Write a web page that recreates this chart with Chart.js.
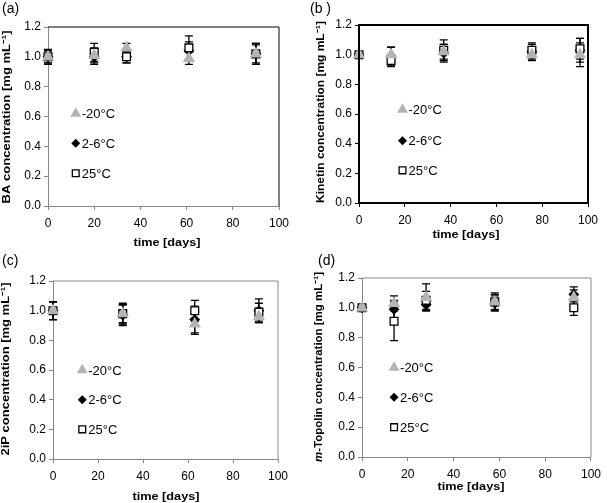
<!DOCTYPE html>
<html>
<head>
<meta charset="utf-8">
<script src="https://cdn.jsdelivr.net/npm/chart.js@4.4.1/dist/chart.umd.min.js"></script>
<style>
  body { margin:0; background:#fff; }
  .panel { position:absolute; }
</style>
</head>
<body>
<div class="panel" style="left:0;top:0"><canvas id="chartA" width="303" height="250"></canvas></div>
<div class="panel" style="left:303px;top:0"><canvas id="chartB" width="304" height="250"></canvas></div>
<div class="panel" style="left:0;top:252px"><canvas id="chartC" width="303" height="251"></canvas></div>
<div class="panel" style="left:303px;top:252px"><canvas id="chartD" width="304" height="251"></canvas></div>
<script>
// series names (same in every panel)
var seriesNames = ["-20°C", "2-6°C", "25°C"];
var xTicks = [0, 20, 40, 60, 80, 100];
var yTicks = [0.0, 0.2, 0.4, 0.6, 0.8, 1.0, 1.2];

// (a) BA
var daysA = [0, 20, 34, 61, 90];
var baCold = [1.00, 1.01, 1.06, 0.99, 1.02];
var baColdErr = [0.04, 0.05, 0.03, 0.04, 0.06];
var baFridge = [1.00, 1.00, 1.00, 1.04, 1.02];
var baFridgeErr = [0.05, 0.05, 0.04, 0.06, 0.07];
var baRoom = [1.00, 1.03, 1.00, 1.06, 1.02];
var baRoomErr = [0.04, 0.06, 0.04, 0.08, 0.07];

// (b) Kinetin
var daysB = [0, 14, 37, 75.5, 96.5];
var kinCold = [1.00, 1.00, 1.02, 1.00, 1.00];
var kinColdErr = [0.02, 0.05, 0.05, 0.04, 0.08];
var kinFridge = [1.00, 0.99, 1.01, 1.02, 1.03];
var kinFridgeErr = [0.02, 0.06, 0.06, 0.05, 0.08];
var kinRoom = [1.00, 0.96, 1.03, 1.03, 1.04];
var kinRoomErr = [0.02, 0.04, 0.07, 0.05, 0.07];

// (c) 2iP
var daysC = [0, 31, 63, 91.5];
var ipCold = [1.00, 0.98, 0.91, 0.96];
var ipColdErr = [0.06, 0.07, 0.07, 0.04];
var ipFridge = [1.00, 0.97, 0.94, 1.00];
var ipFridgeErr = [0.06, 0.07, 0.09, 0.08];
var ipRoom = [1.00, 0.98, 1.00, 0.99];
var ipRoomErr = [0.06, 0.06, 0.07, 0.06];

// (d) m-Topolin
var daysD = [0, 14, 28, 58, 92.5];
var topCold = [1.00, 1.03, 1.07, 1.04, 1.07];
var topColdErr = [0.02, 0.05, 0.09, 0.05, 0.05];
var topFridge = [1.00, 0.99, 1.02, 1.03, 1.09];
var topFridgeErr = [0.02, 0.06, 0.04, 0.05, 0.05];
var topRoom = [1.00, 0.91, 1.05, 1.04, 1.00];
var topRoomErr = [0.02, 0.13, 0.06, 0.06, 0.05];

var FONT = "'Liberation Sans', Arial, sans-serif";
var styles = [
  {pointStyle:'triangle', backgroundColor:'#b4b4b4', borderColor:'#b4b4b4', radius:5.8, legendRadius:5},
  {pointStyle:'rectRot', backgroundColor:'#000', borderColor:'#000', radius:4.5, legendRadius:3.6},
  {pointStyle:'rect', backgroundColor:'#fff', borderColor:'#000', radius:5.5, legendRadius:4.8}
];

function toPts(days, vals){
  return days.map(function(d,i){ return {x:d, y:vals[i]}; });
}

// draw a text run stretched to a given length (the original uses a wide face)
function stretchText(ctx, parts, cx, cy, len, vertical){
  ctx.save();
  ctx.translate(cx, cy);
  if (vertical) ctx.rotate(-Math.PI/2);
  var w = 0;
  parts.forEach(function(pt){ ctx.font = pt.font; w += ctx.measureText(pt.text).width; });
  ctx.scale(len / w, 1);
  ctx.textBaseline = 'middle';
  ctx.textAlign = 'left';
  ctx.fillStyle = '#000';
  var x = -w/2;
  parts.forEach(function(pt){ ctx.font = pt.font; ctx.fillText(pt.text, x, 0); x += ctx.measureText(pt.text).width; });
  ctx.restore();
}

// error bars, titles, panel tag, frame and in-plot legend
var extras = {
  id:'extras',
  beforeDatasetsDraw: function(chart){
    var ctx = chart.ctx, xs = chart.scales.x, ys = chart.scales.y;
    ctx.save();
    ctx.strokeStyle = '#000';
    ctx.lineWidth = 1.3;
    chart.data.datasets.forEach(function(ds){
      ds.data.forEach(function(p,i){
        var e = ds.err[i];
        var px = xs.getPixelForValue(p.x);
        var top = ys.getPixelForValue(p.y + e), bot = ys.getPixelForValue(p.y - e);
        ctx.beginPath();
        ctx.moveTo(px, top); ctx.lineTo(px, bot);
        ctx.moveTo(px-4, top); ctx.lineTo(px+4, top);
        ctx.moveTo(px-4, bot); ctx.lineTo(px+4, bot);
        ctx.stroke();
      });
    });
    ctx.restore();
  },
  afterDraw: function(chart){
    var o = chart.options.plugins.extras;
    var ctx = chart.ctx, a = chart.chartArea, ys = chart.scales.y;
    ctx.save();
    // frame
    ctx.strokeStyle = o.frame;
    ctx.lineWidth = o.frameWidth;
    ctx.beginPath();
    ctx.moveTo(a.left, a.top); ctx.lineTo(a.right, a.top); ctx.lineTo(a.right, a.bottom);
    if (o.fullFrame) { ctx.lineTo(a.left, a.bottom); ctx.lineTo(a.left, a.top); }
    ctx.stroke();
    // tag
    ctx.fillStyle = '#000';
    ctx.font = '14px ' + FONT;
    ctx.textBaseline = 'middle';
    ctx.fillText(o.tag, o.tagX, 9);
    // axis titles
    stretchText(ctx, [{text:'time [days]', font:'bold 11px ' + FONT}], o.xTitle[0], o.xTitle[1], 67, false);
    stretchText(ctx, o.yTitleParts, o.yTitle[0], o.yTitle[1], o.yTitle[2], true);
    // legend
    var lx = a.left + o.legendX * (a.right - a.left);
    seriesNames.forEach(function(name, i){
      var ly = ys.getPixelForValue(o.legendY[i]);
      var s = styles[i];
      ctx.fillStyle = s.backgroundColor; ctx.strokeStyle = s.borderColor; ctx.lineWidth = 1.3;
      Chart.helpers.drawPoint(ctx, {pointStyle:s.pointStyle, radius:s.legendRadius, borderWidth:1.3, rotation:0}, lx, ly);
      ctx.fillStyle = '#000';
      ctx.font = '13px ' + FONT;
      ctx.textBaseline = 'middle';
      ctx.fillText(name, lx + 6, ly + 1);
    });
    ctx.restore();
  }
};

function makePanel(id, p){
  var ctx = document.getElementById(id);
  var sets = [];
  var order = [0, 2, 1]; // cold first, diamond on top
  order.forEach(function(k){
    sets.push({
      label: seriesNames[k],
      data: toPts(p.days, p.vals[k]),
      err: p.errs[k],
      clip: false,
      showLine: false,
      pointStyle: styles[k].pointStyle,
      pointRadius: styles[k].radius,
      pointHoverRadius: styles[k].radius,
      pointBackgroundColor: styles[k].backgroundColor,
      pointBorderColor: styles[k].borderColor,
      pointBorderWidth: 1.3
    });
  });
  return new Chart(ctx, {
    type:'scatter',
    data:{ datasets: sets },
    options:{
      responsive:false,
      animation:false,
      layout:{ padding:{ top:p.padTop, right:p.padRight, left:0, bottom:0 } },
      plugins:{
        legend:{display:false},
        tooltip:{enabled:false},
        extras:{ tag:p.tag, tagX:p.tagX, frame:p.frame, frameWidth:p.frameWidth, fullFrame:p.fullFrame,
                 legendX:p.legendX, legendY:p.legendY, xTitle:p.xTitle, yTitle:p.yTitle, yTitleParts:p.yTitleParts }
      },
      scales:{
        x:{
          type:'linear', min:0, max:100,
          afterBuildTicks: function(s){ s.ticks = xTicks.map(function(v){ return {value:v}; }); },
          afterFit: function(s){ s.height = p.xHeight; },
          ticks:{ color:'#000', font:{family:FONT, size:12}, padding:p.xTickPad, maxRotation:0 },
          grid:{ drawOnChartArea:false, tickLength:4, color:p.axis },
          border:{ color:p.axis, width:p.frameWidth }
        },
        y:{
          min:0, max:1.2,
          afterBuildTicks: function(s){ s.ticks = yTicks.map(function(v){ return {value:v}; }); },
          afterFit: function(s){ s.width = p.yWidth; },
          ticks:{ color:'#000', font:{family:FONT, size:12}, padding:3, callback:function(v){ return v.toFixed(1); } },
          grid:{ drawOnChartArea:false, tickLength:4, color:p.axis },
          border:{ color:p.axis, width:p.frameWidth }
        }
      }
    },
    plugins:[extras]
  });
}

var unit = ' concentration [mg mL\u207B\u00B9]';
var bold = 'bold 11px ' + FONT;

makePanel('chartA', {
  tag:'(a)', tagX:2, days:daysA, vals:[baCold, baFridge, baRoom], errs:[baColdErr, baFridgeErr, baRoomErr],
  yTitleParts:[{text:'BA' + unit, font:bold}], yTitle:[7, 117, 173], xTitle:[167, 243],
  padTop:27, padRight:24, yWidth:48, xHeight:44, xTickPad:6,
  axis:'#888', frame:'#000', frameWidth:1, fullFrame:false, legendX:0.12, legendY:[0.62, 0.42, 0.22]
});
makePanel('chartB', {
  tag:'(b )', tagX:7, days:daysB, vals:[kinCold, kinFridge, kinRoom], errs:[kinColdErr, kinFridgeErr, kinRoomErr],
  yTitleParts:[{text:'Kinetin' + unit, font:bold}], yTitle:[18, 112, 182], xTitle:[163, 235],
  padTop:25, padRight:19, yWidth:56, xHeight:47, xTickPad:6,
  axis:'#000', frame:'#000', frameWidth:2, fullFrame:true, legendX:0.19, legendY:[0.63, 0.42, 0.22]
});
makePanel('chartC', {
  tag:'(c)', tagX:2, days:daysC, vals:[ipCold, ipFridge, ipRoom], errs:[ipColdErr, ipFridgeErr, ipRoomErr],
  yTitleParts:[{text:'2iP' + unit, font:bold}], yTitle:[6, 117, 173], xTitle:[166, 245],
  padTop:29, padRight:25, yWidth:53, xHeight:44, xTickPad:6,
  axis:'#888', frame:'#888', frameWidth:1, fullFrame:false, legendX:0.13, legendY:[0.60, 0.40, 0.20]
});
makePanel('chartD', {
  tag:'(d)', tagX:15, days:daysD, vals:[topCold, topFridge, topRoom], errs:[topColdErr, topFridgeErr, topRoomErr],
  yTitleParts:[{text:'m', font:'italic ' + bold}, {text:'-Topolin' + unit, font:bold}], yTitle:[16, 115, 190], xTitle:[168, 235],
  padTop:26, padRight:16, yWidth:59, xHeight:46, xTickPad:6,
  axis:'#888', frame:'#888', frameWidth:1, fullFrame:false, legendX:0.14, legendY:[0.60, 0.40, 0.20]
});
</script>
</body>
</html>
